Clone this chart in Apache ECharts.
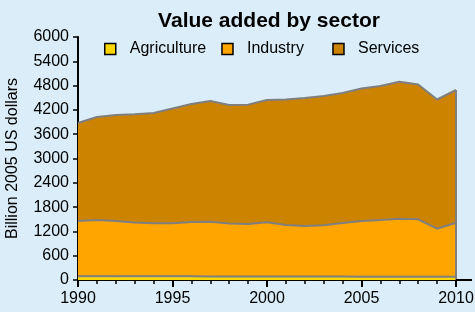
<!DOCTYPE html>
<html>
<head>
<meta charset="utf-8">
<script src="https://cdn.jsdelivr.net/npm/echarts@6/dist/echarts.min.js"></script>
<style>
html, body { margin: 0; padding: 0; background: #daedf8; }
#main { width: 475px; height: 312px; }
</style>
</head>
<body>
<div id="main"></div>
<script>
var years = [1990, 1991, 1992, 1993, 1994, 1995, 1996, 1997, 1998, 1999, 2000,
             2001, 2002, 2003, 2004, 2005, 2006, 2007, 2008, 2009, 2010];
var agriculture = [95, 95, 93, 92, 90, 90, 90, 88, 88, 87, 87, 86, 85, 85, 84, 83, 82, 82, 82, 80, 80];
var industry = [1362, 1386, 1364, 1328, 1310, 1310, 1342, 1352, 1307, 1296, 1337,
                1272, 1248, 1265, 1323, 1374, 1399, 1432, 1417, 1187, 1335];
var services = [2420, 2544, 2617, 2670, 2723, 2835, 2914, 2980, 2926, 2947, 3020,
                3099, 3161, 3193, 3210, 3271, 3309, 3382, 3328, 3190, 3276];
var seriesNames = ['Agriculture', 'Industry', 'Services'];
var seriesColors = ['#ffd700', '#ffa500', '#cc8400'];

// stacked by hand: value axis on x makes echarts stack the wrong dimension
var allData = [agriculture, industry, services];
var cumul = [];
allData.forEach(function (vals, k) {
    cumul.push(vals.map(function (v, i) { return k ? cumul[k - 1][i] + v : v; }));
});
function pairs(vals) {
    return years.map(function (y, i) { return [y, vals[i]]; });
}

var chart = echarts.init(document.getElementById('main'));
var font = 'Liberation Sans';

// draw the tallest band first so the lower ones sit on top of it
var series = [];
for (var k = 2; k >= 0; k--) {
    series.push({
        name: seriesNames[k], type: 'line', symbol: 'none',
        data: pairs(cumul[k]),
        itemStyle: { color: seriesColors[k] },
        lineStyle: { color: '#7f7f7f', width: 2 },
        areaStyle: { color: seriesColors[k], opacity: 1 }
    });
}

var option = {
    backgroundColor: '#daedf8',
    animation: false,
    title: {
        text: 'Value added by sector',
        left: 264, top: 6, textAlign: 'center',
        textStyle: { fontFamily: font, fontSize: 21, fontWeight: 'bold', color: '#000' }
    },
    legend: {
        data: seriesNames,
        left: 99, top: 36,
        icon: 'rect', itemWidth: 11, itemHeight: 11, itemGap: 15,
        itemStyle: { borderColor: '#000', borderWidth: 1.5 },
        // the original leaves a wider gap before Services
        formatter: function (name) { return name === 'Industry' ? name + '   ' : name; },
        textStyle: { fontFamily: font, fontSize: 16, color: '#000', padding: [0, 0, 0, 9] }
    },
    grid: { left: 78, top: 37, right: 19, bottom: 32, outerBoundsMode: 'none' },
    xAxis: {
        type: 'value', min: 1990, max: 2010, interval: 5,
        axisLine: { lineStyle: { color: '#000', width: 2 } },
        axisTick: { length: 7, lineStyle: { color: '#000', width: 2 } },
        minorTick: { show: true, splitNumber: 5, length: 4, lineStyle: { color: '#000', width: 1.5 } },
        splitLine: { show: false },
        axisLabel: { fontFamily: font, fontSize: 16, color: '#000', margin: 11,
                     formatter: function (v) { return String(v); } }
    },
    yAxis: {
        type: 'value', min: 0, max: 6000, interval: 600,
        name: 'Billion 2005 US dollars', nameLocation: 'middle', nameGap: 57,
        nameTextStyle: { fontFamily: font, fontSize: 16, color: '#000' },
        axisLine: { show: true, lineStyle: { color: '#000', width: 2 } },
        axisTick: { show: true, length: 5, lineStyle: { color: '#000', width: 1.5 } },
        splitLine: { show: false },
        axisLabel: { fontFamily: font, fontSize: 16, color: '#000', margin: 9,
                     formatter: function (v) { return String(v); } }
    },
    series: series
};
chart.setOption(option);

// axis line runs a little past the last year, plus the right edge of the filled areas
var p0 = chart.convertToPixel({ xAxisIndex: 0, yAxisIndex: 0 }, [2010, 0]);
var pTop = chart.convertToPixel({ xAxisIndex: 0, yAxisIndex: 0 }, [2010, cumul[2][20]]);
chart.setOption({
    graphic: [
        { type: 'line', shape: { x1: p0[0], y1: pTop[1], x2: p0[0], y2: p0[1] },
          style: { stroke: '#7f7f7f', lineWidth: 2 }, z: 5 },
        { type: 'line', shape: { x1: p0[0], y1: p0[1], x2: p0[0] + 16, y2: p0[1] },
          style: { stroke: '#000', lineWidth: 2 }, z: 5 }
    ]
});
</script>
</body>
</html>
